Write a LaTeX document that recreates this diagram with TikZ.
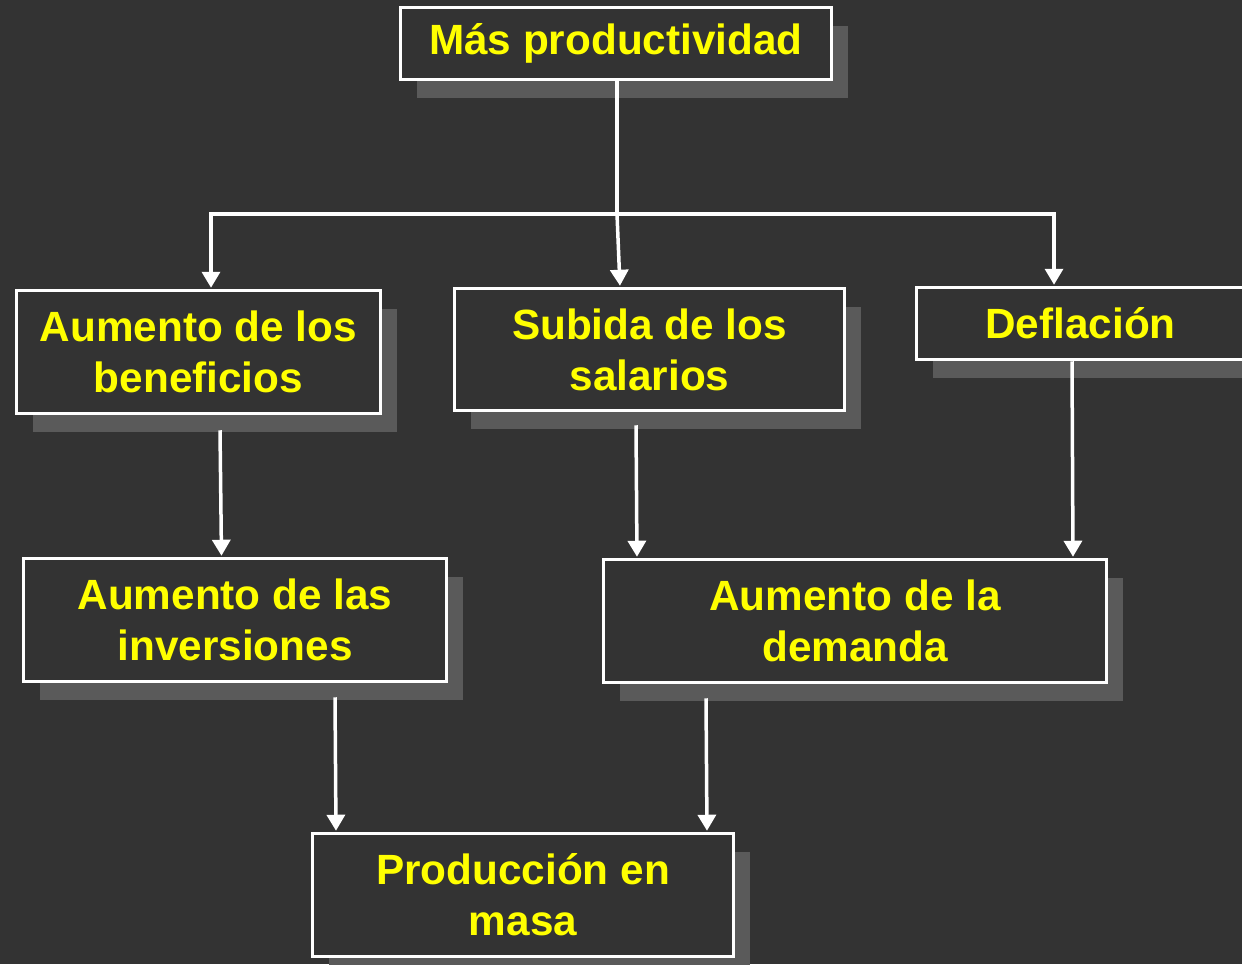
\documentclass[tikz,border=0pt]{standalone}
\usepackage{fontspec}
\setmainfont{Liberation Sans}
\usetikzlibrary{arrows.meta,shadows,calc}
\definecolor{bgc}{HTML}{333333}
\definecolor{shc}{HTML}{5A5A5A}
\definecolor{txc}{HTML}{FFFF00}
\begin{document}
\begin{tikzpicture}[x=1pt,y=1pt,
  box/.style={draw=white,line width=3.5pt,fill=bgc,text=txc,align=center,
    font=\fontsize{42.3}{51}\selectfont\bfseries,inner sep=0pt,
    drop shadow={shadow xshift=16pt,shadow yshift=-18pt,fill=shc,opacity=1}},
  conn/.style={draw=white,line width=3.5pt},
  arr/.style={conn,-{Triangle[width=18pt,length=16pt]},shorten >=1pt}]
\useasboundingbox (0,0) rectangle (1242,-964);
\clip (0,0) rectangle (1242,-964);
\fill[bgc] (0,0) rectangle (1242,-964);

\node[box,minimum width=431pt,minimum height=72pt] (b1) at (616,-43.5) {Más productividad};
\node[box,minimum width=364pt,minimum height=123pt] (b2) at (198.5,-352) {Aumento de los\\beneficios};
\node[box,minimum width=390pt,minimum height=122pt] (b3) at (649.5,-349.5) {Subida de los\\salarios};
\node[box,minimum width=328pt,minimum height=72pt] (b4) at (1080.5,-323.5) {Deflación};
\node[box,minimum width=423pt,minimum height=123pt] (b5) at (235,-620) {Aumento de las\\inversiones};
\node[box,minimum width=503pt,minimum height=123pt] (b6) at (855,-621) {Aumento de la\\demanda};
\node[box,minimum width=421pt,minimum height=123pt] (b7) at (523,-895) {Producción en\\masa};

\coordinate (jm) at (617,-214);
\coordinate (jl) at (211,-214);
\coordinate (jr) at (1054,-214);
\draw[conn] ([xshift=1pt]b1.south) -- (jm);
\draw[conn] ([xshift=-1.75pt]jl) -- ([xshift=1.75pt]jr);
\draw[arr] (jl) -- (jl |- b2.north);
\draw[arr] (jm) -- ([xshift=3pt]jm |- b3.north);
\draw[arr] (jr) -- (jr |- b4.north);

\coordinate (s2) at ([xshift=21.5pt,yshift=-15pt]b2.south);
\draw[arr] (s2) -- ([xshift=1.5pt]s2 |- b5.north);
\coordinate (s3) at ([xshift=-13.5pt,yshift=-13pt]b3.south);
\draw[arr] (s3) -- ([xshift=1pt]s3 |- b6.north);
\coordinate (s4) at ([xshift=-8.5pt]b4.south);
\draw[arr] (s4) -- ([xshift=1pt]s4 |- b6.north);
\coordinate (s5) at ([xshift=100pt,yshift=-14pt]b5.south);
\draw[arr] (s5) -- ([xshift=1pt]s5 |- b7.north);
\coordinate (s6) at ([xshift=-149pt,yshift=-14pt]b6.south);
\draw[arr] (s6) -- ([xshift=1pt]s6 |- b7.north);
\end{tikzpicture}
\end{document}
